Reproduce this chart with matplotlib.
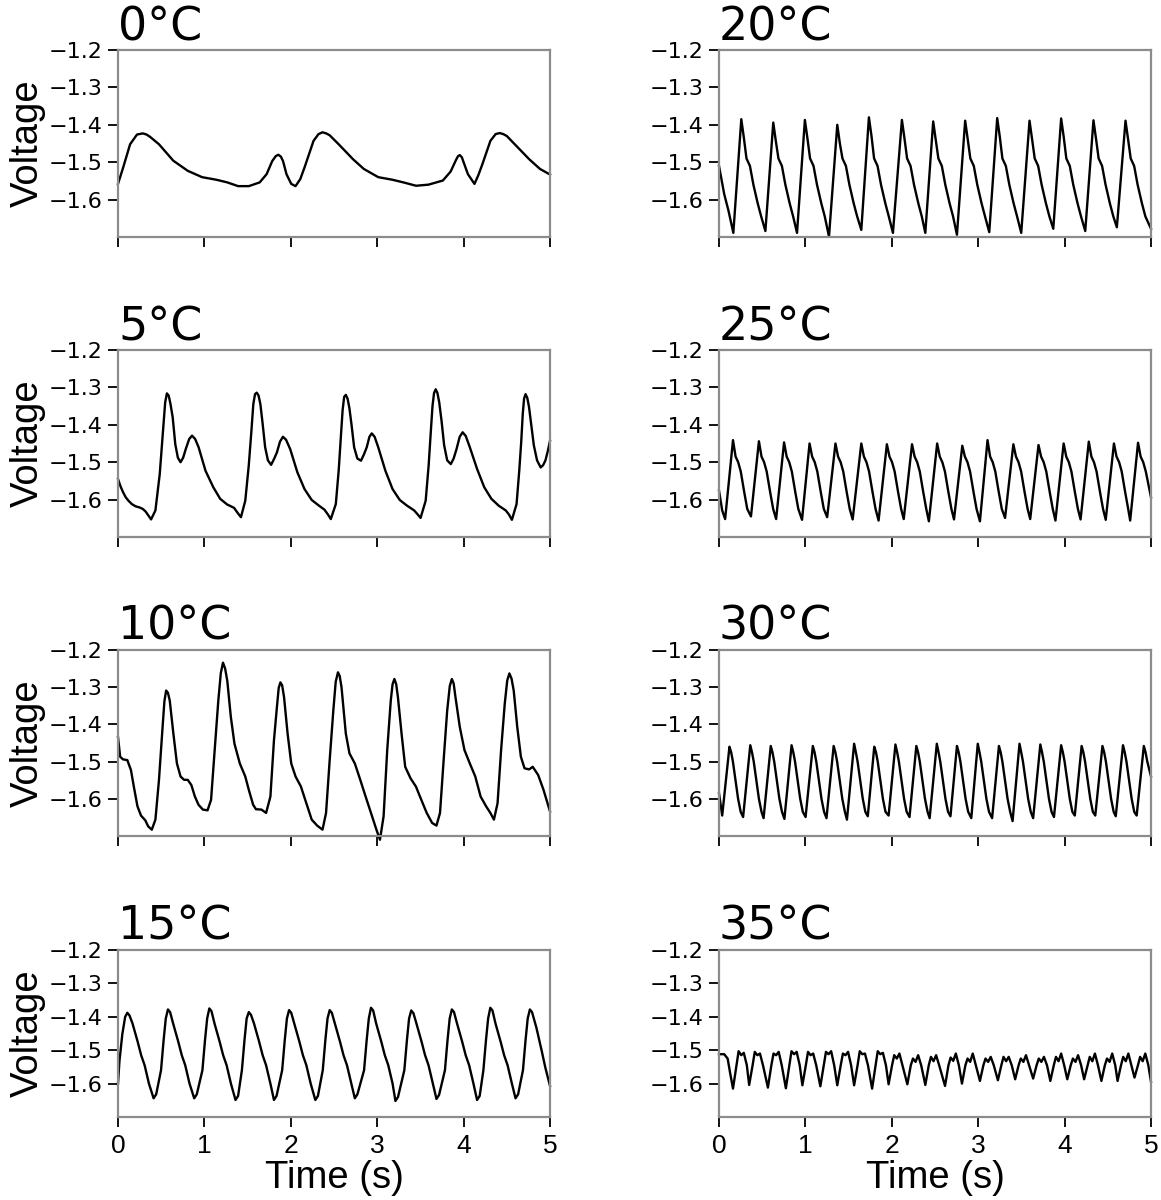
import matplotlib
matplotlib.use("Agg")
import matplotlib.pyplot as plt

# ---------------- data ----------------
titles = ["0°C", "5°C", "10°C", "15°C", "20°C", "25°C", "30°C", "35°C"]
time_ticks = [0, 1, 2, 3, 4, 5]
volt_ticks = [-1.2, -1.3, -1.4, -1.5, -1.6]

t0 = [0.00, 0.06, 0.14, 0.22, 0.287, 0.33, 0.37, 0.474, 0.64, 0.807, 0.973, 1.14, 1.265, 1.39, 1.514,
      1.64, 1.72, 1.785, 1.825, 1.855, 1.885, 1.91, 1.95, 2.005, 2.055, 2.11, 2.159, 2.263, 2.32, 2.367, 2.41, 2.45,
      2.554, 2.72, 2.845, 3.012, 3.178, 3.303, 3.45, 3.594, 3.76, 3.85, 3.91, 3.935, 3.956, 3.98, 4.00, 4.05, 4.126,
      4.17, 4.218, 4.31, 4.37, 4.418, 4.46, 4.50, 4.592, 4.759, 4.884, 5.00]
v0 = [-1.558, -1.514, -1.452, -1.426, -1.423, -1.426, -1.432, -1.452, -1.496, -1.523, -1.540, -1.547,
      -1.554, -1.564, -1.564, -1.554, -1.532, -1.497, -1.484, -1.480, -1.485, -1.497, -1.532, -1.558, -1.564, -1.545,
      -1.514, -1.443, -1.425, -1.420, -1.423, -1.428, -1.452, -1.492, -1.518, -1.540, -1.547, -1.554,
      -1.563, -1.560, -1.549, -1.525, -1.495, -1.484, -1.481, -1.487, -1.500, -1.532, -1.558, -1.535, -1.505, -1.443,
      -1.425, -1.422, -1.425, -1.430, -1.452, -1.492, -1.518, -1.533]

t5 = [0.000, 0.030, 0.058, 0.090, 0.121, 0.160, 0.204, 0.250, 0.287, 0.320, 0.350,
      0.383, 0.433, 0.483, 0.524, 0.546, 0.566, 0.587, 0.608, 0.633, 0.663, 0.693, 0.724, 0.754, 0.784,
      0.824, 0.857, 0.893, 0.933, 1.013, 1.103, 1.183, 1.263, 1.343, 1.383,
      1.423, 1.473, 1.513, 1.543, 1.566, 1.586, 1.606, 1.627, 1.648, 1.673, 1.703, 1.735, 1.772, 1.805,
      1.839, 1.875, 1.909, 1.945, 1.993, 2.076, 2.159, 2.242, 2.325, 2.390, 2.430,
      2.463, 2.521, 2.555, 2.580, 2.600, 2.618, 2.637, 2.657, 2.678, 2.703, 2.733, 2.770, 2.812, 2.845,
      2.879, 2.910, 2.937, 2.970, 3.012, 3.095, 3.178, 3.261, 3.344, 3.428, 3.470,
      3.502, 3.561, 3.595, 3.620, 3.640, 3.658, 3.677, 3.697, 3.718, 3.745, 3.775, 3.810, 3.852, 3.885,
      3.918, 3.955, 3.989, 4.025, 4.072, 4.156, 4.239, 4.322, 4.405, 4.488, 4.525,
      4.559, 4.613, 4.645, 4.667, 4.685, 4.700, 4.717, 4.737, 4.757, 4.783, 4.813, 4.850, 4.892, 4.920,
      4.946, 4.975, 5.000]
v5 = [-1.545, -1.565, -1.580, -1.594, -1.603, -1.612, -1.618, -1.621, -1.625, -1.632, -1.642,
      -1.653, -1.629, -1.532, -1.407, -1.340, -1.316, -1.322, -1.345, -1.380, -1.452, -1.488, -1.500, -1.488, -1.465,
      -1.438, -1.429, -1.438, -1.460, -1.523, -1.567, -1.598, -1.613, -1.622, -1.635,
      -1.647, -1.603, -1.510, -1.420, -1.345, -1.318, -1.314, -1.322, -1.345, -1.395, -1.460, -1.495, -1.507, -1.492,
      -1.474, -1.445, -1.432, -1.440, -1.465, -1.527, -1.572, -1.601, -1.616, -1.627, -1.640,
      -1.652, -1.612, -1.520, -1.430, -1.360, -1.325, -1.320, -1.330, -1.355, -1.400, -1.460, -1.490, -1.496, -1.480,
      -1.460, -1.432, -1.423, -1.432, -1.460, -1.523, -1.572, -1.601, -1.616, -1.629, -1.640,
      -1.649, -1.603, -1.510, -1.420, -1.350, -1.315, -1.305, -1.315, -1.340, -1.390, -1.455, -1.495, -1.505, -1.490,
      -1.465, -1.432, -1.420, -1.430, -1.460, -1.518, -1.567, -1.598, -1.616, -1.629, -1.640,
      -1.654, -1.612, -1.520, -1.445, -1.370, -1.330, -1.318, -1.328, -1.352, -1.400, -1.455, -1.495, -1.514, -1.508,
      -1.496, -1.470, -1.443]

t10 = [0.000, 0.025, 0.058, 0.108, 0.150, 0.183, 0.225, 0.266, 0.316, 0.349,
       0.391, 0.433, 0.474, 0.516, 0.537, 0.557, 0.578, 0.599, 0.641, 0.682, 0.724, 0.765,
       0.807, 0.849, 0.890, 0.932, 0.982, 1.036, 1.077, 1.119, 1.161, 1.190, 1.215, 1.240,
       1.265, 1.306, 1.348, 1.410, 1.473, 1.514, 1.564, 1.597, 1.660, 1.714,
       1.764, 1.805, 1.839, 1.860, 1.880, 1.900, 1.922, 1.963, 2.005, 2.055, 2.117, 2.180,
       2.242, 2.305, 2.367, 2.408, 2.450, 2.492, 2.520, 2.546, 2.566, 2.587, 2.637, 2.679,
       2.741, 2.804, 2.866, 2.928, 2.991, 3.032, 3.074, 3.116, 3.157, 3.178, 3.199, 3.220,
       3.240, 3.282, 3.324, 3.386, 3.448, 3.511, 3.573, 3.636, 3.686, 3.727,
       3.769, 3.810, 3.840, 3.864, 3.885, 3.906, 3.956, 4.010, 4.072, 4.135, 4.197, 4.260,
       4.310, 4.351, 4.393, 4.434, 4.476, 4.505, 4.530, 4.555, 4.580, 4.621, 4.663, 4.705,
       4.759, 4.800, 4.863, 4.925, 5.000]
v10 = [-1.434, -1.487, -1.494, -1.496, -1.523, -1.567, -1.620, -1.645, -1.658, -1.674,
       -1.683, -1.656, -1.550, -1.407, -1.338, -1.309, -1.315, -1.336, -1.425, -1.505, -1.540, -1.549,
       -1.549, -1.563, -1.594, -1.616, -1.629, -1.631, -1.603, -1.469, -1.336, -1.262, -1.234, -1.250,
       -1.283, -1.380, -1.452, -1.505, -1.540, -1.576, -1.616, -1.628, -1.629, -1.638,
       -1.594, -1.443, -1.354, -1.302, -1.287, -1.295, -1.327, -1.425, -1.505, -1.540, -1.567, -1.612,
       -1.656, -1.672, -1.683, -1.638, -1.496, -1.363, -1.285, -1.260, -1.270, -1.300, -1.425, -1.478,
       -1.505, -1.549, -1.594, -1.638, -1.683, -1.710, -1.647, -1.469, -1.336, -1.292, -1.278, -1.292,
       -1.327, -1.425, -1.514, -1.545, -1.567, -1.603, -1.638, -1.665, -1.672, -1.638,
       -1.496, -1.363, -1.297, -1.278, -1.290, -1.327, -1.407, -1.469, -1.505, -1.540, -1.594, -1.620,
       -1.638, -1.656, -1.612, -1.469, -1.345, -1.282, -1.263, -1.277, -1.309, -1.407, -1.487, -1.518,
       -1.521, -1.514, -1.536, -1.576, -1.634]

t15 = [0.000, 0.017, 0.050, 0.083,
       0.108, 0.133, 0.168, 0.228, 0.268, 0.308, 0.358, 0.412, 0.442, 0.498, 0.528, 0.553,
       0.578, 0.603, 0.638, 0.698, 0.738, 0.778, 0.828, 0.882, 0.912, 0.977, 1.007, 1.032,
       1.057, 1.082, 1.117, 1.177, 1.217, 1.257, 1.307, 1.360, 1.390, 1.434, 1.464, 1.489,
       1.514, 1.539, 1.574, 1.634, 1.674, 1.714, 1.764, 1.805, 1.835, 1.900, 1.930, 1.955,
       1.980, 2.005, 2.040, 2.100, 2.140, 2.180, 2.230, 2.284, 2.314, 2.370, 2.400, 2.425,
       2.450, 2.475, 2.510, 2.570, 2.610, 2.650, 2.700, 2.741, 2.771, 2.848, 2.878, 2.903,
       2.928, 2.953, 2.988, 3.048, 3.088, 3.128, 3.178, 3.211, 3.241, 3.314, 3.344, 3.369,
       3.394, 3.419, 3.454, 3.514, 3.554, 3.594, 3.644, 3.686, 3.716, 3.784, 3.814, 3.839,
       3.864, 3.889, 3.924, 3.984, 4.024, 4.064, 4.114, 4.156, 4.186, 4.229, 4.259, 4.284,
       4.309, 4.334, 4.369, 4.429, 4.469, 4.509, 4.559, 4.601, 4.631, 4.687, 4.717, 4.742,
       4.767, 4.792, 4.842, 4.904, 4.946, 5.000]
v15 = [-1.600, -1.532, -1.452, -1.400,
       -1.388, -1.396, -1.420, -1.475, -1.515, -1.545, -1.600, -1.644, -1.632, -1.560, -1.470, -1.405,
       -1.378, -1.386, -1.420, -1.475, -1.515, -1.545, -1.600, -1.644, -1.632, -1.560, -1.470, -1.405,
       -1.375, -1.383, -1.420, -1.475, -1.515, -1.545, -1.600, -1.649, -1.637, -1.560, -1.470, -1.405,
       -1.386, -1.394, -1.420, -1.475, -1.515, -1.545, -1.600, -1.649, -1.637, -1.560, -1.470, -1.405,
       -1.380, -1.388, -1.420, -1.475, -1.515, -1.545, -1.600, -1.649, -1.637, -1.560, -1.470, -1.405,
       -1.380, -1.388, -1.420, -1.475, -1.515, -1.545, -1.600, -1.644, -1.632, -1.560, -1.470, -1.405,
       -1.373, -1.381, -1.420, -1.475, -1.515, -1.545, -1.600, -1.652, -1.640, -1.560, -1.470, -1.405,
       -1.381, -1.389, -1.420, -1.475, -1.515, -1.545, -1.600, -1.646, -1.634, -1.560, -1.470, -1.405,
       -1.378, -1.386, -1.420, -1.475, -1.515, -1.545, -1.600, -1.649, -1.637, -1.560, -1.470, -1.405,
       -1.373, -1.381, -1.420, -1.475, -1.515, -1.545, -1.600, -1.644, -1.632, -1.560, -1.470, -1.405,
       -1.378, -1.386, -1.432, -1.502, -1.552, -1.607]

t20 = [0.000, 0.060, 0.110, 0.166,
       0.258, 0.288, 0.318, 0.358, 0.398, 0.448, 0.488, 0.537,
       0.628, 0.658, 0.688, 0.728, 0.768, 0.818, 0.858, 0.903,
       0.994, 1.024, 1.054, 1.094, 1.134, 1.184, 1.224, 1.273,
       1.369, 1.399, 1.429, 1.469, 1.509, 1.559, 1.599, 1.647,
       1.735, 1.765, 1.795, 1.835, 1.875, 1.925, 1.965, 2.013,
       2.117, 2.147, 2.177, 2.217, 2.257, 2.307, 2.347, 2.388,
       2.479, 2.509, 2.539, 2.579, 2.619, 2.669, 2.709, 2.754,
       2.849, 2.879, 2.909, 2.949, 2.989, 3.039, 3.079, 3.128,
       3.220, 3.250, 3.280, 3.320, 3.360, 3.410, 3.450, 3.498,
       3.594, 3.624, 3.654, 3.694, 3.734, 3.784, 3.824, 3.869,
       3.960, 3.990, 4.020, 4.060, 4.100, 4.150, 4.190, 4.239,
       4.334, 4.364, 4.394, 4.434, 4.474, 4.524, 4.564, 4.605,
       4.705, 4.735, 4.765, 4.805, 4.845, 4.895, 4.935, 5.000]
v20 = [-1.510, -1.585, -1.630, -1.689,
       -1.385, -1.435, -1.490, -1.510, -1.560, -1.610, -1.645, -1.684,
       -1.394, -1.444, -1.490, -1.510, -1.560, -1.610, -1.645, -1.689,
       -1.387, -1.437, -1.490, -1.510, -1.560, -1.610, -1.645, -1.699,
       -1.400, -1.450, -1.490, -1.510, -1.560, -1.610, -1.645, -1.681,
       -1.380, -1.430, -1.490, -1.510, -1.560, -1.610, -1.645, -1.689,
       -1.387, -1.437, -1.490, -1.510, -1.560, -1.610, -1.645, -1.689,
       -1.391, -1.441, -1.490, -1.510, -1.560, -1.610, -1.645, -1.694,
       -1.389, -1.439, -1.490, -1.510, -1.560, -1.610, -1.645, -1.687,
       -1.382, -1.432, -1.490, -1.510, -1.560, -1.610, -1.645, -1.689,
       -1.389, -1.439, -1.490, -1.510, -1.560, -1.610, -1.645, -1.678,
       -1.383, -1.433, -1.490, -1.510, -1.560, -1.610, -1.645, -1.684,
       -1.388, -1.438, -1.490, -1.510, -1.560, -1.610, -1.645, -1.674,
       -1.389, -1.439, -1.490, -1.510, -1.560, -1.610, -1.645, -1.678]

t25 = [0.000, 0.037, 0.071,
       0.162, 0.192, 0.222, 0.252, 0.292, 0.327, 0.370,
       0.462, 0.492, 0.522, 0.552, 0.592, 0.627, 0.661,
       0.753, 0.783, 0.813, 0.843, 0.883, 0.918, 0.961,
       1.048, 1.078, 1.108, 1.138, 1.178, 1.213, 1.252,
       1.348, 1.378, 1.408, 1.438, 1.478, 1.513, 1.547,
       1.647, 1.677, 1.707, 1.737, 1.777, 1.812, 1.847,
       1.943, 1.973, 2.003, 2.033, 2.073, 2.108, 2.138,
       2.234, 2.264, 2.294, 2.324, 2.364, 2.399, 2.429,
       2.525, 2.555, 2.585, 2.615, 2.655, 2.690, 2.720,
       2.816, 2.846, 2.876, 2.906, 2.946, 2.981, 3.020,
       3.108, 3.138, 3.168, 3.198, 3.238, 3.273, 3.311,
       3.407, 3.437, 3.467, 3.497, 3.537, 3.572, 3.602,
       3.698, 3.728, 3.758, 3.788, 3.828, 3.863, 3.894,
       3.989, 4.019, 4.049, 4.079, 4.119, 4.154, 4.185,
       4.280, 4.310, 4.340, 4.370, 4.410, 4.445, 4.476,
       4.571, 4.601, 4.631, 4.661, 4.701, 4.736, 4.759,
       4.850, 4.880, 4.910, 4.940, 5.000]
v25 = [-1.576, -1.629, -1.652,
       -1.441, -1.485, -1.500, -1.525, -1.580, -1.625, -1.645,
       -1.444, -1.485, -1.500, -1.525, -1.580, -1.625, -1.652,
       -1.447, -1.485, -1.500, -1.525, -1.580, -1.625, -1.654,
       -1.450, -1.485, -1.500, -1.525, -1.580, -1.625, -1.647,
       -1.450, -1.485, -1.500, -1.525, -1.580, -1.625, -1.653,
       -1.450, -1.485, -1.500, -1.525, -1.580, -1.625, -1.656,
       -1.452, -1.485, -1.500, -1.525, -1.580, -1.625, -1.652,
       -1.452, -1.485, -1.500, -1.525, -1.580, -1.625, -1.658,
       -1.450, -1.485, -1.500, -1.525, -1.580, -1.625, -1.653,
       -1.456, -1.485, -1.500, -1.525, -1.580, -1.625, -1.658,
       -1.441, -1.485, -1.500, -1.525, -1.580, -1.625, -1.649,
       -1.452, -1.485, -1.500, -1.525, -1.580, -1.625, -1.652,
       -1.454, -1.485, -1.500, -1.525, -1.580, -1.625, -1.656,
       -1.450, -1.485, -1.500, -1.525, -1.580, -1.625, -1.653,
       -1.445, -1.485, -1.500, -1.525, -1.580, -1.625, -1.654,
       -1.450, -1.485, -1.500, -1.525, -1.580, -1.625, -1.656,
       -1.448, -1.485, -1.500, -1.525, -1.594]

t30 = [0.000, 0.037,
       0.121, 0.141, 0.161, 0.191, 0.221, 0.251, 0.279,
       0.362, 0.382, 0.402, 0.432, 0.462, 0.492, 0.516,
       0.599, 0.619, 0.639, 0.669, 0.699, 0.729, 0.757,
       0.840, 0.860, 0.880, 0.910, 0.940, 0.970, 1.002,
       1.086, 1.106, 1.126, 1.156, 1.186, 1.216, 1.244,
       1.327, 1.347, 1.367, 1.397, 1.427, 1.457, 1.481,
       1.564, 1.584, 1.604, 1.634, 1.664, 1.694, 1.722,
       1.797, 1.817, 1.837, 1.867, 1.897, 1.927, 1.963,
       2.042, 2.062, 2.082, 2.112, 2.142, 2.172, 2.205,
       2.284, 2.304, 2.324, 2.354, 2.384, 2.414, 2.438,
       2.521, 2.541, 2.561, 2.591, 2.621, 2.651, 2.679,
       2.754, 2.774, 2.794, 2.824, 2.854, 2.884, 2.920,
       2.995, 3.015, 3.035, 3.065, 3.095, 3.125, 3.161,
       3.240, 3.260, 3.280, 3.310, 3.340, 3.370, 3.398,
       3.478, 3.498, 3.518, 3.548, 3.578, 3.608, 3.636,
       3.719, 3.739, 3.759, 3.789, 3.819, 3.849, 3.877,
       3.960, 3.980, 4.000, 4.030, 4.060, 4.090, 4.118,
       4.197, 4.217, 4.237, 4.267, 4.297, 4.327, 4.355,
       4.438, 4.458, 4.478, 4.508, 4.538, 4.568, 4.592,
       4.676, 4.696, 4.716, 4.746, 4.776, 4.806, 4.834,
       4.917, 4.937, 4.957, 5.000]
v30 = [-1.585, -1.645,
       -1.460, -1.475, -1.500, -1.550, -1.600, -1.635, -1.649,
       -1.456, -1.475, -1.500, -1.550, -1.600, -1.635, -1.652,
       -1.458, -1.475, -1.500, -1.550, -1.600, -1.635, -1.654,
       -1.456, -1.475, -1.500, -1.550, -1.600, -1.635, -1.649,
       -1.458, -1.475, -1.500, -1.550, -1.600, -1.635, -1.652,
       -1.458, -1.475, -1.500, -1.550, -1.600, -1.635, -1.656,
       -1.452, -1.475, -1.500, -1.550, -1.600, -1.635, -1.647,
       -1.460, -1.475, -1.500, -1.550, -1.600, -1.635, -1.645,
       -1.454, -1.475, -1.500, -1.550, -1.600, -1.635, -1.649,
       -1.458, -1.475, -1.500, -1.550, -1.600, -1.635, -1.652,
       -1.452, -1.475, -1.500, -1.550, -1.600, -1.635, -1.647,
       -1.458, -1.475, -1.500, -1.550, -1.600, -1.635, -1.652,
       -1.452, -1.475, -1.500, -1.550, -1.600, -1.635, -1.652,
       -1.458, -1.475, -1.500, -1.550, -1.600, -1.635, -1.660,
       -1.452, -1.475, -1.500, -1.550, -1.600, -1.635, -1.652,
       -1.454, -1.475, -1.500, -1.550, -1.600, -1.635, -1.649,
       -1.456, -1.475, -1.500, -1.550, -1.600, -1.635, -1.645,
       -1.458, -1.475, -1.500, -1.550, -1.600, -1.635, -1.645,
       -1.458, -1.475, -1.500, -1.550, -1.600, -1.635, -1.647,
       -1.456, -1.475, -1.500, -1.550, -1.600, -1.635, -1.645,
       -1.458, -1.475, -1.500, -1.540]

t35 = [0.000, 0.060, 0.100, 0.130,
       0.162, 0.202, 0.227, 0.257, 0.287, 0.322,
       0.349, 0.389, 0.414, 0.444, 0.474, 0.509,
       0.566, 0.606, 0.631, 0.661, 0.691, 0.726,
       0.774, 0.814, 0.839, 0.869, 0.899, 0.934,
       0.965, 1.005, 1.030, 1.060, 1.090, 1.125,
       1.173, 1.213, 1.238, 1.268, 1.298, 1.333,
       1.369, 1.409, 1.434, 1.464, 1.494, 1.529,
       1.564, 1.604, 1.629, 1.659, 1.689, 1.724,
       1.772, 1.812, 1.837, 1.867, 1.897, 1.932,
       1.963, 2.003, 2.028, 2.058, 2.088, 2.123,
       2.180, 2.220, 2.245, 2.275, 2.305, 2.340,
       2.388, 2.428, 2.453, 2.483, 2.513, 2.548,
       2.616, 2.656, 2.681, 2.711, 2.741, 2.776,
       2.812, 2.852, 2.877, 2.907, 2.937, 2.972,
       3.020, 3.060, 3.085, 3.115, 3.145, 3.180,
       3.228, 3.268, 3.293, 3.323, 3.353, 3.388,
       3.428, 3.468, 3.493, 3.523, 3.553, 3.588,
       3.636, 3.676, 3.701, 3.731, 3.761, 3.796,
       3.835, 3.875, 3.900, 3.930, 3.960, 3.995,
       4.031, 4.071, 4.096, 4.126, 4.156, 4.191,
       4.226, 4.266, 4.291, 4.321, 4.351, 4.386,
       4.426, 4.466, 4.491, 4.521, 4.551, 4.586,
       4.613, 4.653, 4.678, 4.708, 4.738, 4.773,
       4.809, 4.849, 4.874, 4.904, 4.934, 4.969, 5.000]
v35 = [-1.512, -1.512, -1.525, -1.570,
       -1.615, -1.545, -1.503, -1.515, -1.508, -1.545,
       -1.604, -1.545, -1.505, -1.515, -1.510, -1.545,
       -1.612, -1.545, -1.510, -1.515, -1.505, -1.545,
       -1.614, -1.545, -1.503, -1.512, -1.505, -1.545,
       -1.605, -1.545, -1.505, -1.515, -1.510, -1.545,
       -1.608, -1.545, -1.505, -1.512, -1.503, -1.545,
       -1.605, -1.545, -1.510, -1.515, -1.505, -1.545,
       -1.605, -1.545, -1.503, -1.512, -1.510, -1.545,
       -1.615, -1.545, -1.503, -1.512, -1.508, -1.545,
       -1.602, -1.545, -1.515, -1.525, -1.510, -1.545,
       -1.602, -1.545, -1.525, -1.535, -1.515, -1.545,
       -1.604, -1.545, -1.520, -1.533, -1.515, -1.545,
       -1.607, -1.545, -1.522, -1.532, -1.510, -1.545,
       -1.600, -1.545, -1.525, -1.535, -1.510, -1.545,
       -1.592, -1.545, -1.525, -1.535, -1.520, -1.545,
       -1.590, -1.545, -1.520, -1.533, -1.520, -1.545,
       -1.587, -1.545, -1.525, -1.535, -1.515, -1.545,
       -1.585, -1.545, -1.525, -1.535, -1.520, -1.545,
       -1.592, -1.545, -1.520, -1.533, -1.510, -1.545,
       -1.587, -1.545, -1.525, -1.535, -1.515, -1.545,
       -1.587, -1.545, -1.520, -1.533, -1.510, -1.545,
       -1.592, -1.545, -1.525, -1.535, -1.510, -1.545,
       -1.592, -1.545, -1.520, -1.533, -1.510, -1.545,
       -1.582, -1.545, -1.520, -1.533, -1.510, -1.545, -1.595]

series = [(t0, v0), (t5, v5), (t10, v10), (t15, v15),
          (t20, v20), (t25, v25), (t30, v30), (t35, v35)]

# ---------------- layout ----------------
W, H = 1161, 1200
fig = plt.figure(figsize=(W / 100, H / 100), dpi=100)

col_left = [118, 719]
col_width = 432
row_top = [50, 350, 650, 950]
row_h = [187, 187, 186, 167]

spine_col = "#8c8c8c"
label_font = "Liberation Sans"

for idx, (tt, vv) in enumerate(series):
    col = idx // 4
    row = idx % 4
    x0 = col_left[col] / W
    y0 = 1 - (row_top[row] + row_h[row]) / H
    ax = fig.add_axes([x0, y0, col_width / W, row_h[row] / H])
    ax.plot(tt, vv, color="black", lw=1.7, clip_on=False, solid_joinstyle="round")
    ax.set_xlim(0, 5)
    ax.set_ylim(-1.7, -1.2)
    ax.set_xticks(time_ticks)
    ax.set_yticks(volt_ticks)
    ax.set_yticklabels(["\u2212%.1f" % abs(v) for v in volt_ticks],
                       fontfamily="DejaVu Sans", fontsize=16)
    for s in ax.spines.values():
        s.set_color(spine_col)
        s.set_linewidth(1.6)
    ax.tick_params(axis="both", direction="out", color="black", width=1.3, length=7)
    ax.tick_params(axis="y", pad=4)
    if row == 3:
        ax.set_xticklabels([str(t) for t in time_ticks], fontfamily=label_font, fontsize=19)
        ax.tick_params(axis="x", pad=5)
        ax.set_xlabel("Time (s)", fontfamily=label_font, fontsize=27.5, labelpad=2)
    else:
        ax.set_xticklabels([])
    if col == 0:
        ax.set_ylabel("Voltage", fontfamily=label_font, fontsize=27.5, labelpad=2)
    ax.set_title(titles[idx], loc="left", fontfamily="DejaVu Sans", fontsize=33, pad=4)

fig.savefig("out.png", dpi=100)
